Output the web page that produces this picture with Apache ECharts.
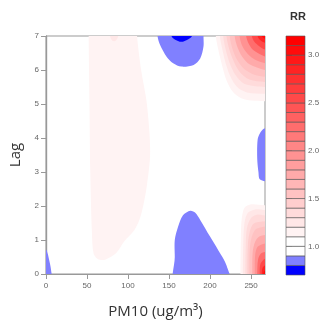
<!DOCTYPE html>
<html>
<head>
<meta charset="utf-8">
<script src="https://cdn.jsdelivr.net/npm/echarts@6/dist/echarts.min.js"></script>
<style>
html,body{margin:0;padding:0;background:#fff;}
#main{width:323px;height:324px;}
</style>
</head>
<body>
<div id="main"></div>
<script>
// axis ticks
var xTicks = [0, 50, 100, 150, 200, 250];
var yTicks = [0, 1, 2, 3, 4, 5, 6, 7];
var keyTicks = [1.0, 1.5, 2.0, 2.5, 3.0];
// colour key levels (RR)
var keyLevels = [0.7, 0.8, 0.9, 1.0, 1.1, 1.2, 1.3, 1.4, 1.5, 1.6, 1.7, 1.8, 1.9, 2.0,
                 2.1, 2.2, 2.3, 2.4, 2.5, 2.6, 2.7, 2.8, 2.9, 3.0, 3.1, 3.2];

// contour regions, [PM10, Lag]
var pinkBand = [[52,7.4],[52,7],[53,5],[54,3],[56,1.2],[58,0.6],[63,0.44],[72,0.42],[85,0.6],
                [95,0.95],[108,1.3],[116,1.75],[123,2.6],[127,3.6],[123,5.0],[116,6.0],[111,7],[111,7.4]];
var pinkTongue = [[78,7.3],[78,7],[81,6.86],[85,6.86],[88,7],[88,7.3]];

var topRightLevels = [1.1, 1.2, 1.3, 1.4, 1.5, 1.7, 1.9, 2.2, 2.5, 2.8, 3.0];
var topRight = [
  [[207,7],[210,6.6],[214,6.2],[220,5.7],[228,5.35],[238,5.17],[250,5.1],[267,5.08]],
  [[212,7],[215,6.6],[219,6.2],[225,5.8],[233,5.5],[245,5.34],[267,5.3]],
  [[216,7],[219,6.6],[224,6.2],[231,5.85],[241,5.6],[255,5.52],[267,5.5]],
  [[220,7],[223,6.65],[228,6.3],[236,5.95],[248,5.72],[267,5.65]],
  [[224,7],[227,6.65],[233,6.3],[242,6.02],[254,5.86],[267,5.8]],
  [[230,7],[233,6.7],[239,6.4],[248,6.17],[267,6.0]],
  [[236,7],[239,6.72],[246,6.47],[255,6.3],[267,6.2]],
  [[244,7],[247,6.78],[253,6.58],[267,6.4]],
  [[251,7],[254,6.83],[260,6.7],[267,6.6]],
  [[258,7],[261,6.88],[267,6.8]],
  [[263,7],[265,6.95],[267,6.92]]
];

var bottomRightLevels = [1.1, 1.2, 1.3, 1.4, 1.5, 1.7, 1.9, 2.2, 2.5, 2.8, 3.0];
var bottomRight = [
  [[237,0],[237.5,1.0],[238.5,1.6],[242,1.95],[250,2.05],[267,2.02]],
  [[240,0],[240.5,0.9],[242,1.5],[246,1.8],[255,1.9],[267,1.88]],
  [[243,0],[243.5,0.85],[245,1.35],[250,1.65],[258,1.75],[267,1.72]],
  [[245.5,0],[246,0.8],[248,1.2],[253,1.48],[267,1.55]],
  [[248,0],[248.5,0.75],[251,1.1],[256,1.32],[267,1.4]],
  [[251.5,0],[252,0.65],[255,0.95],[260,1.1],[267,1.15]],
  [[254.5,0],[255,0.55],[258,0.8],[267,0.9]],
  [[257.5,0],[258.5,0.42],[262,0.6],[267,0.65]],
  [[260.5,0],[261.5,0.3],[267,0.45]],
  [[263,0],[264,0.18],[267,0.25]],
  [[265,0],[267,0.1]]
];

var blueBottom = [[157,-0.4],[157,0.5],[157,1.0],[161,1.39],[167,1.73],[176,1.86],[182,1.8],
                  [188,1.59],[200,1.1],[210,0.7],[220,0.26],[225,-0.4]];
var blueTop = [[136,7.4],[136,7],[139,6.74],[147,6.39],[155,6.2],[165,6.1],[180,6.15],
               [188,6.34],[192,6.69],[192,7],[192,7.4]];
var blueRight = [[275,4.3],[266,4.28],[261,4.15],[258,3.95],[257.5,3.4],[259,3.0],[261,2.78],[275,2.75]];
var blueLeft = [[-6,0.72],[0,0.72],[2,0.6],[4,0.4],[6,0.15],[7.5,-0.4],[-6,-0.4]];
var darkBlueTop = [[153,7.3],[153,7],[157,6.9],[165,6.83],[173,6.9],[178,7],[178,7.3]];

function bandColor(lo){
  var c;
  if(lo < 0.95){
    var t = Math.round((lo-0.7)/0.1)/2;
    c = [255*t, 255*t, 255];
  }else{
    var k = Math.round((lo-1.0)/0.1);
    var g = 255*(1-k/21);
    c = [255, g, g];
  }
  return 'rgb('+Math.round(c[0])+','+Math.round(c[1])+','+Math.round(c[2])+')';
}

// list of filled regions, drawn in order
var regions = [];
regions.push({lo:1.1, pts:pinkBand});
regions.push({lo:1.2, pts:pinkTongue});
for(var i=0;i<topRight.length;i++){
  var c = topRight[i];
  var p = [[c[0][0],7.4]].concat(c, [[275,c[c.length-1][1]],[275,7.4]]);
  regions.push({lo:topRightLevels[i], pts:p});
}
for(var i=0;i<bottomRight.length;i++){
  var c = bottomRight[i];
  var p = [[c[0][0],-0.4]].concat(c, [[275,c[c.length-1][1]],[275,-0.4]]);
  regions.push({lo:bottomRightLevels[i], pts:p});
}
regions.push({lo:0.8, pts:blueBottom});
regions.push({lo:0.8, pts:blueTop});
regions.push({lo:0.8, pts:blueRight});
regions.push({lo:0.8, pts:blueLeft});
regions.push({lo:0.7, pts:darkBlueTop});

var keyCells = [];
for(var i=0;i<keyLevels.length-1;i++){
  keyCells.push([keyLevels[i], keyLevels[i+1]]);
}

var chart = echarts.init(document.getElementById('main'));
var tickText = {color:'#666', fontSize:8, fontFamily:'Liberation Sans'};
var boxLine = {show:true, lineStyle:{color:'#999', width:1.2}};
var option = {
  animation:false,
  backgroundColor:'#fff',
  title:{text:'RR', left:285, top:6, textStyle:{fontSize:11, fontWeight:'bold', color:'#333', fontFamily:'Liberation Sans'}},
  grid:[
    {left:46, top:36, width:219, height:238, show:true, borderColor:'#999', borderWidth:1, backgroundColor:'#fff'},
    {left:286, top:36, width:19, height:239}
  ],
  xAxis:[
    {type:'value', gridIndex:0, min:0, max:267,
     name:'PM10 (ug/m³)', nameLocation:'middle', nameGap:30,
     nameTextStyle:{fontSize:15, color:'#333', fontFamily:'Open Sans'},
     axisLine:boxLine,
     axisTick:{show:true, length:5, customValues:xTicks, lineStyle:{color:'#999'}},
     axisLabel:Object.assign({margin:8, customValues:xTicks}, tickText),
     splitLine:{show:false}},
    {type:'value', gridIndex:1, min:0, max:1, show:false},
    {type:'value', gridIndex:0, min:0, max:267, position:'top',
     axisLine:boxLine, axisTick:{show:false}, axisLabel:{show:false}, splitLine:{show:false}}
  ],
  yAxis:[
    {type:'value', gridIndex:0, min:0, max:7, interval:1,
     name:'Lag', nameLocation:'middle', nameGap:23,
     nameTextStyle:{fontSize:15, color:'#333', fontFamily:'Open Sans'},
     axisLine:boxLine,
     axisTick:{show:true, length:5, customValues:yTicks, lineStyle:{color:'#999'}},
     axisLabel:Object.assign({margin:7, customValues:yTicks}, tickText),
     splitLine:{show:false}},
    {type:'value', gridIndex:1, min:0.7, max:3.2, position:'right',
     axisLine:{show:false},
     axisTick:{show:true, length:6, customValues:keyTicks, lineStyle:{color:'#555'}},
     axisLabel:Object.assign({margin:3, customValues:keyTicks, formatter:function(v){return v.toFixed(1);}}, tickText),
     splitLine:{show:false}},
    {type:'value', gridIndex:0, min:0, max:7, position:'right',
     axisLine:boxLine, axisTick:{show:false}, axisLabel:{show:false}, splitLine:{show:false}}
  ],
  series:[
    {type:'custom', xAxisIndex:0, yAxisIndex:0, clip:true,
     data:regions.map(function(r,i){return [i];}),
     renderItem:function(params, api){
       var r = regions[params.dataIndex];
       var pts = r.pts.map(function(p){return api.coord(p);});
       return {type:'polygon', shape:{points:pts, smooth:0.3}, style:{fill:bandColor(r.lo), stroke:null}};
     }},
    {type:'custom', xAxisIndex:1, yAxisIndex:1,
     data:keyCells,
     renderItem:function(params, api){
       var a = api.coord([0, api.value(1)]);
       var b = api.coord([1, api.value(0)]);
       return {type:'rect', shape:{x:a[0], y:a[1], width:b[0]-a[0], height:b[1]-a[1]},
               style:{fill:bandColor(api.value(0)), stroke:'#555', lineWidth:0.6}};
     }}
  ]
};
chart.setOption(option);
</script>
</body>
</html>
